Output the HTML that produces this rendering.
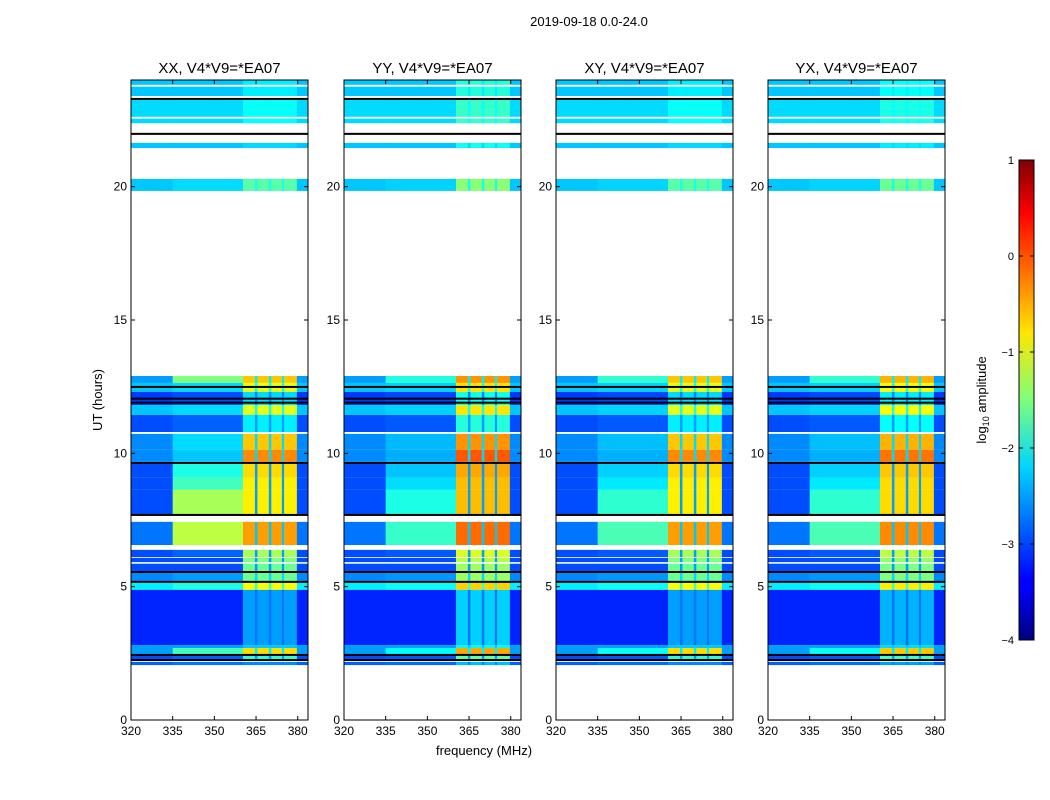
<!DOCTYPE html>
<html><head><meta charset="utf-8"><style>
body{margin:0;background:#fff;}
svg{display:block;font-family:"Liberation Sans",sans-serif;}
</style></head><body>
<svg id="fig" width="1050" height="800">
<defs><linearGradient id="jet" x1="0" y1="1" x2="0" y2="0">
<stop offset="0" stop-color="#000080"/><stop offset="0.11" stop-color="#0000ff"/><stop offset="0.125" stop-color="#0000ff"/>
<stop offset="0.36" stop-color="#00d5ff"/><stop offset="0.5" stop-color="#7dff7a"/><stop offset="0.64" stop-color="#ffe600"/>
<stop offset="0.89" stop-color="#ff0000"/><stop offset="1" stop-color="#800000"/></linearGradient></defs>
<text x="589" y="26" font-size="13" text-anchor="middle">2019-09-18 0.0-24.0</text>
<g id="panels"></g>
<text transform="translate(102,400) rotate(-90)" font-size="13" text-anchor="middle">UT (hours)</text>
<text x="484" y="755" font-size="13" text-anchor="middle">frequency (MHz)</text>
<g>
<rect x="1019" y="160" width="15" height="480" fill="url(#jet)" stroke="#000" stroke-width="1"/>
<g id="cbticks"></g>
<text transform="translate(986,400) rotate(-90)" font-size="13" text-anchor="middle">log<tspan font-size="9" dy="3">10</tspan><tspan dy="-3"> amplitude</tspan></text>
</g>
</svg>
<script>
const panelTitles=["XX, V4*V9=*EA07","YY, V4*V9=*EA07","XY, V4*V9=*EA07","YX, V4*V9=*EA07"];
const midAdj=[0,-0.7,-0.6,-0.6];
const rfiAdj=[0,0.25,0,0.1];
// time bands (UT hours) and log10 amplitude levels, one entry per band
const bandLo =[23.82,23.40,22.62,22.38,21.45,19.84,12.64,12.30,11.81,11.44,10.80,10.13, 9.68, 9.08, 8.63, 7.69, 6.56, 6.11, 5.92, 5.55, 5.18, 4.88, 2.81, 2.70, 2.44, 2.25, 2.06];
const bandHi =[24.00,23.75,23.30,22.55,21.64,20.29,12.90,12.64,12.30,11.81,11.44,10.73,10.13, 9.60, 9.08, 8.63, 7.43, 6.38, 6.08, 5.86, 5.55, 5.18, 4.88, 2.81, 2.70, 2.44, 2.18];
const bandBg =[-2.4, -2.4, -2.3, -2.3, -2.4, -2.4, -2.6, -2.4, -3.1, -2.4, -3.0, -2.7, -2.7, -3.0, -3.0, -3.0, -2.8, -3.0, -3.0, -3.0, -2.7, -2.2, -3.2, -2.6, -2.6, -3.0, -2.9];
const bandMid=[-2.4, -2.4, -2.3, -2.3, -2.4, -2.3, -1.5, -2.3, -3.0, -2.3, -2.9, -2.3, -2.4, -2.0, -1.8, -1.3, -1.2, -2.9, -3.0, -3.0, -2.6, -2.0, -3.2, -2.6, -1.8, -2.9, -2.8];
const bandRfi=[-2.2, -2.2, -2.1, -2.1, -2.3, -1.7, -0.6, -1.0, -2.3, -1.0, -2.2, -0.6, -0.3, -0.7, -0.8, -0.8, -0.4, -1.3, -1.5, -1.6, -1.6, -0.9, -2.6, -2.4, -0.7, -1.9, -2.7];
const blackLines=[23.29,21.98,12.49,12.05,11.9,9.64,7.69,5.55,5.18,2.44,2.25];
const freqEdges=[320,335,360.3,364.6,365.5,369.6,370.5,374.3,375.1,379.7,383.7];
const freqType=["bg","mid","rfi","gap","rfi","gap","rfi","gap","rfi","bg"];
const xTicks=[320,335,350,365,380];
const yTicks=[0,5,10,15,20];
const cbTicks=[1,0,-1,-2,-3,-4];

const NS="http://www.w3.org/2000/svg";
function mk(t,a,p){const e=document.createElementNS(NS,t);for(const k in a)e.setAttribute(k,a[k]);p.appendChild(e);return e;}
function jet(v){let t=(v+4)/5;t=Math.max(0,Math.min(1,t));
 const c=x=>Math.round(255*Math.max(0,Math.min(1,1.5-Math.abs(4*t-x))));
 return `rgb(${c(3)},${c(2)},${c(1)})`;}
const lefts=[131,344,556,768],W=177,TOP=80,H=640;
const yS=u=>TOP+H-u*H/24;
const panels=document.getElementById('panels');
lefts.forEach((L,p)=>{
 const xS=f=>L+(f-320)/(383.7-320)*W;
 const g=mk('g',{},panels);
 
 
 const hm=mk('g',{},g);
 
 
 bandLo.forEach((lo,i)=>{
  const hi=bandHi[i];
  for(let j=0;j<freqType.length;j++){
   const ty=freqType[j];let v=bandBg[i];
   if(ty==="mid"){v=bandMid[i];if(bandMid[i]>bandBg[i])v=bandMid[i]+midAdj[p]*(bandMid[i]-bandBg[i])/1.7;}
   if(ty==="rfi")v=bandRfi[i]+rfiAdj[p];
   if(ty==="gap")v=Math.min(bandBg[i]+0.4,bandRfi[i]);
   const x0=xS(freqEdges[j]),x1=xS(freqEdges[j+1]);
   const r=mk('rect',{x:x0,y:yS(hi),width:x1-x0+0.3,height:yS(lo)-yS(hi),fill:jet(v)},hm);
   
   
  }
 });
 blackLines.forEach(u=>{const l=mk('rect',{x:L,y:yS(u)-1,width:W,height:2,fill:'#000'},hm);
  
  });
 const fr=mk('rect',{x:L,y:TOP,width:W,height:H,fill:'none',stroke:'#000','stroke-width':1},g);
 
 
 const t=mk('text',{x:L+W/2,y:73,'font-size':15,'text-anchor':'middle'},g);t.textContent=panelTitles[p];
 
 
 xTicks.forEach(f=>{const x=xS(f);
  mk('line',{x1:x,x2:x,y1:TOP+H,y2:TOP+H-4,stroke:'#000'},g);
  mk('line',{x1:x,x2:x,y1:TOP,y2:TOP+4,stroke:'#000'},g);
  const tx=mk('text',{x:x,y:TOP+H+15,'font-size':12,'text-anchor':'middle'},g);tx.textContent=f;
  
  });
 yTicks.forEach(u=>{const y=yS(u);
  mk('line',{x1:L,x2:L+4,y1:y,y2:y,stroke:'#000'},g);
  mk('line',{x1:L+W,x2:L+W-4,y1:y,y2:y,stroke:'#000'},g);
  const ty=mk('text',{x:L-4,y:y+4,'font-size':12,'text-anchor':'end'},g);ty.textContent=u;
  
  });
});
const cb=document.getElementById('cbticks');
cbTicks.forEach(v=>{const y=160+(1-v)*96;
 mk('line',{x1:1019,x2:1023,y1:y,y2:y,stroke:'#000'},cb);
 mk('line',{x1:1034,x2:1030,y1:y,y2:y,stroke:'#000'},cb);
 const t=mk('text',{x:1014,y:y+4,'font-size':11,'text-anchor':'end'},cb);
 t.textContent=v<0?'\u2212'+(-v):String(v);
 
 });
</script>
</body></html>
